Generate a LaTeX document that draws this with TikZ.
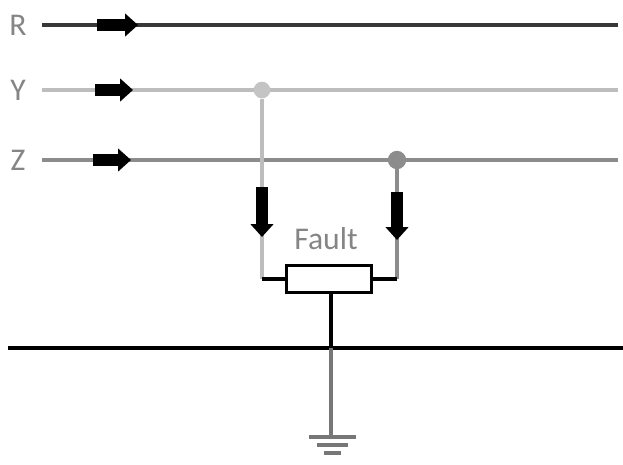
\documentclass[tikz,border=0pt]{standalone}
\usepackage{fontspec}
\setmainfont{Carlito}
\usetikzlibrary{arrows.meta,positioning}
\definecolor{lineR}{HTML}{383838}
\definecolor{lineY}{HTML}{BDBDBD}
\definecolor{lineZ}{HTML}{8C8C8C}
\definecolor{txtgrey}{HTML}{858585}
\tikzset{
	phase/.style={text=txtgrey, font=\fontsize{27}{30}\selectfont, inner sep=0pt},
	bus/.style={line width=2.6pt},
	flow/.style={line width=10pt, -{Triangle[length=11pt, width=19pt]}},
	tapdot/.style={circle, inner sep=0pt, minimum size=0.5cm},
	fault/.style={draw, line width=2.6pt, minimum width=2.55cm, minimum height=0.82cm, inner sep=0pt},
	lead/.style={line width=2.6pt}
}
\begin{document}
\begin{tikzpicture}[x=0.03cm, y=-0.03cm]
	\useasboundingbox (0,0) rectangle (623,464);
	% phase labels and lines
	\node[phase] (R) at (18,25) {R};
	\node[phase] (Y) at (18,90) {Y};
	\node[phase] (Z) at (18,160) {Z};
	\coordinate (R-w) at (42,25);  \coordinate (R-e) at (618,25);
	\coordinate (Y-w) at (42,90);  \coordinate (Y-e) at (618,90);
	\coordinate (Z-w) at (42,160); \coordinate (Z-e) at (618,160);
	\draw[bus, lineR, line width=3.2pt] (R-w) -- (R-e);
	\draw[bus, lineY] (Y-w) -- (Y-e);
	\draw[bus, lineZ] (Z-w) -- (Z-e);
	% current direction
	\coordinate (R-a) at (97,25);  \coordinate (R-b) at (138,25);
	\coordinate (Y-a) at (95,90);  \coordinate (Y-b) at (133,90);
	\coordinate (Z-a) at (93,160); \coordinate (Z-b) at (131,160);
	\draw[flow] (R-a) -- (R-b);
	\draw[flow] (Y-a) -- (Y-b);
	\draw[flow] (Z-a) -- (Z-b);
	% fault branch
	\node[tapdot, fill=lineY!90!white] (Y-tap) at (262,90) {};
	\node[tapdot, fill=lineZ, minimum size=0.55cm] (Z-tap) at (397,160) {};
	\node[fault] (F) at (329,279) {};
	\node[phase] (F-lbl) at (326,239) {Fault};
	\coordinate (F-l) at (262,279);
	\coordinate (F-r) at (397,279);
	\draw[bus, lineY] (Y-tap) -- (F-l);
	\draw[bus, lineZ] (Z-tap) -- (F-r);
	\draw[lead] (F-l) -- (F.west);
	\draw[lead] (F-r) -- (F.east);
	\coordinate (Y-fa) at (262,187); \coordinate (Y-fb) at (262,237);
	\coordinate (Z-fa) at (397,192); \coordinate (Z-fb) at (397,240);
	\draw[flow] (Y-fa) -- (Y-fb);
	\draw[flow] (Z-fa) -- (Z-fb);
	% ground line and earth
	\coordinate (G-w) at (8,348);  \coordinate (G-e) at (623,348);
	\coordinate (F-g) at (331,348);
	\coordinate (E) at (331,437);
	\draw[line width=3.2pt] (G-w) -- (G-e);
	\draw[lead] (F.south -| F-g) -- (F-g);
	\draw[bus, lineZ!85!black] (F-g) -- (E);
	\draw[bus, lineZ!85!black] (309,437) -- (356,437);
	\draw[bus, lineZ!85!black] (317,445) -- (348,445);
	\draw[bus, lineZ!85!black] (324,453) -- (341,453);
\end{tikzpicture}
\end{document}
